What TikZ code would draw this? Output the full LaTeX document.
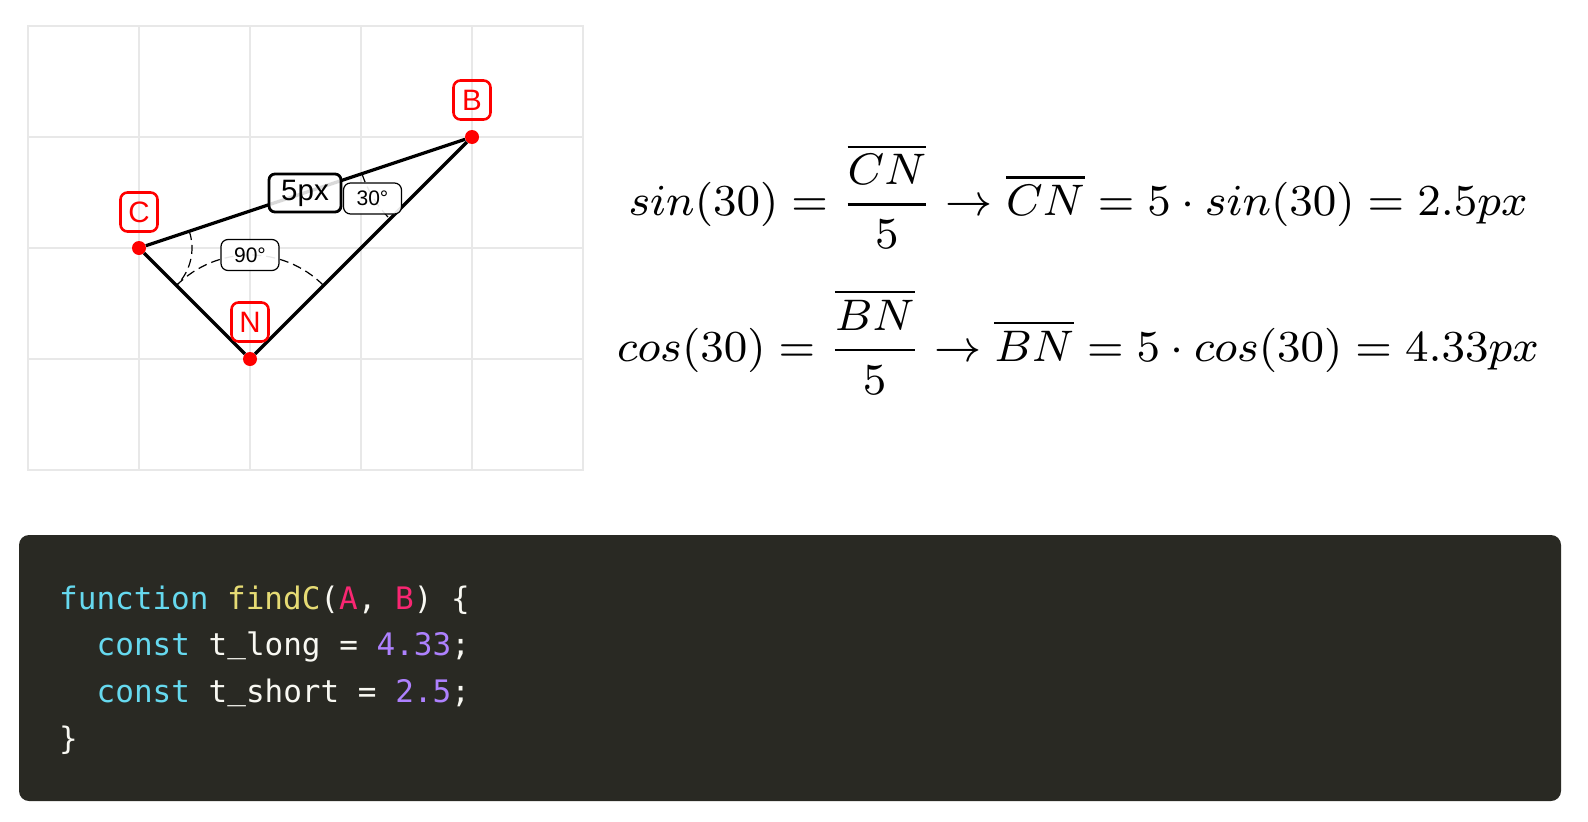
\documentclass[tikz,border=0pt]{standalone}
\usepackage{fontspec}
\setmainfont{Liberation Sans}
\setmonofont{DejaVu Sans Mono}
\definecolor{panel}{HTML}{292923}
\definecolor{gridgray}{HTML}{E8E8E8}
\definecolor{kw}{HTML}{66D9EF}
\definecolor{fn}{HTML}{E6DB74}
\definecolor{arg}{HTML}{F92672}
\definecolor{num}{HTML}{AE81FF}
\definecolor{plain}{HTML}{F8F8F2}
\newcommand{\codeus}{\raisebox{3pt}{\_}}
\tikzset{
  gridline/.style={draw=gridgray, line width=1.5pt},
  edge/.style={line width=3.2pt},
  anglearc/.style={line width=1.2pt, dash pattern=on 9pt off 5pt},
  dot/.style={circle, fill=red, inner sep=0pt, minimum size=14pt},
  pointlabel/.style={draw=red, text=red, line width=2.6pt, rounded corners=7pt, inner sep=0pt, minimum width=37pt, minimum height=39pt, font=\fontsize{29.5}{29.5}\selectfont},
  lenlabel/.style={draw, line width=2.8pt, rounded corners=6pt, fill=white, fill opacity=.85, text opacity=1, draw opacity=1, inner sep=0pt, minimum width=72pt, minimum height=38pt, font=\fontsize{29.5}{29.5}\selectfont},
  anglabel/.style={draw, line width=1.2pt, rounded corners=7pt, fill=white, fill opacity=.9, text opacity=1, draw opacity=1, inner sep=0pt, minimum width=58pt, minimum height=31pt, font=\fontsize{21}{21}\selectfont},
  eqn/.style={anchor=base, scale=5.53, inner sep=0pt, font=\footnotesize},
  codeline/.style={anchor=base west, inner sep=0pt, text=plain, font=\ttfamily\fontsize{31}{31}\selectfont}
}
\begin{document}
\begin{tikzpicture}[x=1pt, y=1pt]
  \useasboundingbox (0,0) rectangle (1588,-822);
  \draw[gridline] (28,-26) rectangle (583,-470);
  \foreach \x in {139,250,361,472}
  \draw[gridline] (\x,-26) -- (\x,-470);
  \foreach \y in {137,248,359}
  \draw[gridline] (28,-\y) -- (583,-\y);

  \node[dot] (c) at (139,-248) {};
  \node[dot] (n) at (250,-359) {};
  \node[dot] (b) at (472,-137) {};

  \draw[anglearc] ([shift={(18.43:53)}]c.center) arc (18.43:-45:53);
  \draw[anglearc] ([shift={(135:104)}]n.center) arc (135:45:104);
  \draw[anglearc] ([shift={(198.43:116)}]b.center) arc (198.43:225:116);

  \foreach \from/\to in {c/b,b/n,n/c}
  \draw[edge] (\from) -- (\to);

  \node[pointlabel] (clabel) at (139,-212) {C};
  \node[pointlabel] (nlabel) at (250,-322) {N};
  \node[pointlabel] (blabel) at (472,-100) {B};
  \node[lenlabel] (len) at (305,-193) {5px};
  \node[anglabel] (shortang) at (372.5,-198.5) {30°};
  \node[anglabel] (rightang) at (250,-255) {90°};

  \node[eqn] (sineq) at (1078,-215.5) {$\displaystyle sin(30) = \frac{\overline{CN}}{5} \rightarrow \overline{CN} = 5 \cdot sin(30) = 2.5px$};
  \node[eqn] (coseq) at (1078,-361) {$\displaystyle cos(30) = \frac{\overline{BN}}{5} \rightarrow \overline{BN} = 5 \cdot cos(30) = 4.33px$};

  \fill[panel, rounded corners=10pt] (19,-535) rectangle (1561,-801);
  \node[codeline] (line1) at (59,-609) {\textcolor{kw}{function} \textcolor{fn}{findC}(\textcolor{arg}{A}, \textcolor{arg}{B}) \{};
  \node[codeline] (line2) at (96.5,-655) {\textcolor{kw}{const} t\codeus long = \textcolor{num}{4.33};};
  \node[codeline] (line3) at (96.5,-702) {\textcolor{kw}{const} t\codeus short = \textcolor{num}{2.5};};
  \node[codeline] (line4) at (59,-749) {\}};
\end{tikzpicture}
\end{document}
